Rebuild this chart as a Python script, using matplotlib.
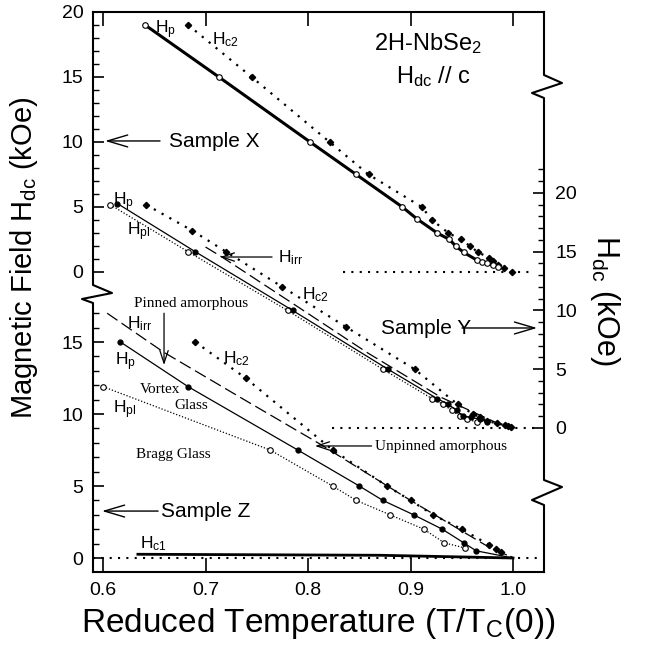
import matplotlib
matplotlib.use('Agg')
import matplotlib.pyplot as plt
from matplotlib.lines import Line2D
from matplotlib.ticker import FixedLocator

plt.rcParams['font.family'] = ['Liberation Sans', 'DejaVu Sans']
plt.rcParams['mathtext.default'] = 'regular'

# ---------------- data (reduced temperature T/Tc(0), field in kOe) ----------------
# Sample X (left axis, upper part)
X_hp_T = [0.641, 0.713, 0.802, 0.847, 0.892, 0.906, 0.926, 0.938, 0.944, 0.952, 0.965, 0.970, 0.975, 0.980, 0.985]
X_hp_H = [19.0, 15.0, 10.0, 7.5, 5.0, 4.1, 3.0, 2.5, 2.0, 1.5, 0.9, 0.8, 0.7, 0.5, 0.4]
X_hc2_T = [0.683, 0.745, 0.821, 0.859, 0.911, 0.921, 0.937, 0.949, 0.958, 0.966, 0.977, 0.980, 0.985, 0.991, 0.999]
X_hc2_H = [19.0, 15.0, 10.0, 7.5, 5.0, 4.0, 3.0, 2.5, 2.0, 1.5, 1.1, 0.85, 0.5, 0.3, 0.0]
X_zero_T = [0.834, 1.016]

# Sample Y (right axis)
Y_hp_T = [0.614, 0.690, 0.785, 0.878, 0.926, 0.937, 0.945, 0.951, 0.959, 0.968, 0.975]
Y_hp_H = [19.1, 15.0, 10.0, 5.0, 2.5, 2.0, 1.5, 1.0, 0.9, 0.75, 0.5]
Y_hpl_T = [0.607, 0.683, 0.780, 0.873, 0.921, 0.932, 0.940, 0.948, 0.955, 0.965]
Y_hpl_H = [19.0, 15.0, 10.0, 5.0, 2.5, 2.0, 1.5, 1.0, 0.75, 0.5]
Y_hc2_T = [0.642, 0.687, 0.720, 0.775, 0.837, 0.904, 0.946, 0.961, 0.968, 0.975, 0.984, 0.992, 0.995, 0.998]
Y_hc2_H = [19.0, 16.8, 15.0, 12.0, 8.6, 5.0, 2.0, 1.2, 0.9, 0.6, 0.4, 0.25, 0.2, 0.1]
Y_hirr_T = [0.700, 0.716, 0.792, 0.858, 0.930, 0.990]
Y_hirr_H = [15.4, 14.55, 10.2, 6.4, 2.6, 0.2]
Y_zero_T = [0.823, 1.026]

# Sample Z (left axis, lower part)
Z_hp_T = [0.617, 0.683, 0.790, 0.850, 0.873, 0.903, 0.931, 0.952, 0.964, 1.000]
Z_hp_H = [15.0, 11.9, 7.5, 5.0, 4.0, 3.0, 2.0, 1.05, 0.5, 0.0]
Z_hpl_T = [0.600, 0.763, 0.824, 0.847, 0.880, 0.913, 0.933, 0.953]
Z_hpl_H = [11.9, 7.5, 5.0, 4.0, 3.0, 2.0, 1.05, 0.7]
Z_hc2_T = [0.690, 0.739, 0.824, 0.877, 0.900, 0.922, 0.950, 0.977, 0.983, 0.988, 1.000]
Z_hc2_H = [15.0, 12.5, 7.5, 5.0, 4.0, 3.0, 2.0, 0.9, 0.6, 0.4, 0.0]
Z_hirr_T = [0.604, 0.659, 0.740, 0.812, 0.900, 0.973, 1.000]
Z_hirr_H = [17.0, 14.3, 10.9, 7.9, 4.0, 0.9, 0.0]
Z_hc1_T = [0.634, 0.870, 1.000]
Z_hc1_H = [0.26, 0.19, 0.0]
Z_zero_T = [0.5902, 1.0302]

x_ticks = [0.6, 0.7, 0.8, 0.9, 1.0]
X_major = [0, 5, 10, 15, 20]
Z_major = [0, 5, 10, 15]
Y_major = [0, 5, 10, 15, 20]

# ---------------- figure / axes geometry ----------------
W, Hh = 645, 654
fig = plt.figure(figsize=(W / 100, Hh / 100), dpi=100)
L, R, B, T = 93, 544, 572, 12
rect = [L / W, 1 - B / Hh, (R - L) / W, (B - T) / Hh]
xlim = (0.5902, 1.0302)

axZ = fig.add_axes(rect)
axZ.set_xlim(*xlim)
axZ.set_ylim(-0.972, 37.92)
axX = fig.add_axes(rect, sharex=axZ)
axX.set_ylim(-23.077, 20.0)
axY = fig.add_axes(rect, sharex=axZ)
axY.set_ylim(-12.255, 35.40)

for a in (axX, axY):
    a.patch.set_visible(False)
    for s in a.spines.values():
        s.set_visible(False)
    a.tick_params(axis='x', which='both', bottom=False, top=False,
                  labelbottom=False, labeltop=False)

axZ.spines['left'].set_visible(False)
axZ.spines['right'].set_visible(False)
axZ.spines['top'].set_linewidth(1.5)
axZ.spines['bottom'].set_linewidth(1.5)

axZ.xaxis.set_major_locator(FixedLocator(x_ticks))
axZ.tick_params(axis='x', which='major', direction='in', length=10, width=1.2,
                top=True, bottom=True, labelsize=14, pad=7)
axZ.tick_params(axis='x', which='minor', bottom=False, top=False)

axZ.yaxis.set_major_locator(FixedLocator(Z_major))
axZ.yaxis.set_minor_locator(FixedLocator(list(range(0, 18))))
axZ.tick_params(axis='y', which='major', direction='in', length=8, width=1.2,
                left=True, right=False, labelsize=14, pad=7)
axZ.tick_params(axis='y', which='minor', direction='in', length=4, width=1.0,
                left=True, right=False)

axX.yaxis.set_major_locator(FixedLocator(X_major))
axX.yaxis.set_minor_locator(FixedLocator(list(range(0, 21))))
axX.tick_params(axis='y', which='major', direction='in', length=8, width=1.2,
                left=True, right=False, labelsize=14, pad=7)
axX.tick_params(axis='y', which='minor', direction='in', length=4, width=1.0,
                left=True, right=False)

axY.yaxis.tick_right()
axY.yaxis.set_major_locator(FixedLocator(Y_major))
axY.yaxis.set_minor_locator(FixedLocator(list(range(0, 23))))
axY.tick_params(axis='y', which='major', direction='in', length=8, width=1.2,
                left=False, right=True, labelright=True, labelleft=False,
                labelsize=14, pad=8)
axY.tick_params(axis='y', which='minor', direction='in', length=4, width=1.0,
                left=False, right=True)

# broken frame (left and right spines with zigzags)
def fx(px):
    return px / W

def fy(py):
    return 1 - py / Hh

left_px = [(93, 12), (93, 285), (112, 293), (82, 299), (93, 303), (93, 572)]
right_px = [(544, 12), (544, 75), (562, 83), (532, 93), (544, 98), (544, 480),
            (562, 487), (532, 500), (544, 505), (544, 572)]
for pts in (left_px, right_px):
    fig.add_artist(Line2D([fx(p[0]) for p in pts], [fy(p[1]) for p in pts],
                          transform=fig.transFigure, color='k', lw=1.5))

# ---------------- styles ----------------
dot_big = (0, (1, 3))
dot_fine = (0, (1, 1.5))
dash = (0, (10, 4))
open_c = dict(marker='o', ms=4, mfc='white', mec='k', mew=0.8)
fill_c = dict(marker='o', ms=3.5, mfc='k', mec='k')
fill_d = dict(marker='D', ms=3.2, mfc='k', mec='k')

# Sample X
axX.plot(X_zero_T, [0, 0], color='k', lw=1.5, ls=dot_big)
axX.plot(X_hc2_T, X_hc2_H, color='k', lw=1.6, ls=dot_big, **fill_d)
axX.plot(X_hp_T, X_hp_H, color='k', lw=2.2, ls='-', **open_c)

# Sample Y
axY.plot(Y_zero_T, [0, 0], color='k', lw=1.5, ls=dot_big)
axY.plot(Y_hc2_T, Y_hc2_H, color='k', lw=1.6, ls=dot_big, **fill_d)
axY.plot(Y_hirr_T, Y_hirr_H, color='k', lw=0.9, ls=dash)
axY.plot(Y_hpl_T, Y_hpl_H, color='k', lw=0.9, ls=dot_fine, **open_c)
axY.plot(Y_hp_T, Y_hp_H, color='k', lw=0.9, ls='-', **fill_c)

# Sample Z
axZ.plot(Z_zero_T, [0, 0], color='k', lw=1.5, ls=dot_big, clip_on=False)
axZ.plot(Z_hc1_T, Z_hc1_H, color='k', lw=2.0, ls='-')
axZ.plot(Z_hc2_T, Z_hc2_H, color='k', lw=1.6, ls=dot_big, markevery=slice(0, -1), **fill_d)
axZ.plot(Z_hirr_T, Z_hirr_H, color='k', lw=0.9, ls=dash)
axZ.plot(Z_hpl_T, Z_hpl_H, color='k', lw=0.9, ls=dot_fine, **open_c)
axZ.plot(Z_hp_T, Z_hp_H, color='k', lw=0.9, ls='-', markevery=slice(0, -1), **fill_c)

# ---------------- labels ----------------
lab = dict(fontsize=12.5, ha='left', va='baseline')
axX.text(0.6507, 18.38, r'H$_{p}$', **lab)
axX.text(0.7063, 17.54, r'H$_{c2}$', **lab)
axX.text(0.917, 17.6, r'2H-NbSe$_{2}$', fontsize=17, ha='center', va='center')
axX.text(0.922, 15.0, r'H$_{dc}$ // c', fontsize=17, ha='center', va='center')

axY.text(0.6098, 18.98, r'H$_{p}$', **lab)
axY.text(0.6234, 16.43, r'H$_{pl}$', **lab)
axY.text(0.7707, 14.13, r'H$_{irr}$', **lab)
axY.text(0.7941, 10.98, r'H$_{c2}$', **lab)

axZ.text(0.6234, 15.97, r'H$_{irr}$', **lab)
axZ.text(0.6117, 13.40, r'H$_{p}$', **lab)
axZ.text(0.7171, 13.54, r'H$_{c2}$', **lab)
axZ.text(0.6098, 10.07, r'H$_{pl}$', **lab)
axZ.text(0.6361, 0.69, r'H$_{c1}$', **lab)

serif = dict(family=['Liberation Serif', 'DejaVu Serif'], fontsize=11, ha='center', va='center')
axZ.text(0.6556, 11.67, 'Vortex', **serif)
axZ.text(0.6859, 10.56, 'Glass', **serif)
axZ.text(0.6683, 7.22, 'Bragg Glass', **serif)
axZ.text(0.6859, 17.71, 'Pinned amorphous', **serif)
axZ.text(0.8654, 7.71, 'Unpinned amorphous', **dict(serif, ha='left'))

arr_big = dict(arrowstyle='->,head_length=1.45,head_width=0.43', lw=1.0, color='k',
               shrinkA=0, shrinkB=0)
arr_small = dict(arrowstyle='->,head_length=0.9,head_width=0.3', lw=0.9, color='k',
                 shrinkA=0, shrinkB=0)

axX.text(0.7083, 10.0, 'Sample X', fontsize=15, ha='center', va='center')
axX.annotate('', xy=(0.6020, 10.08), xytext=(0.6556, 10.08), arrowprops=arr_big)
axY.text(0.9151, 8.43, 'Sample Y', fontsize=15, ha='center', va='center')
axY.annotate('', xy=(1.0234, 8.51), xytext=(0.9502, 8.51), arrowprops=arr_big,
             annotation_clip=False)
axZ.text(0.7005, 3.26, 'Sample Z', fontsize=15, ha='center', va='center')
axZ.annotate('', xy=(0.5990, 3.26), xytext=(0.6537, 3.26), arrowprops=arr_big)

axY.annotate('', xy=(0.7141, 14.55), xytext=(0.7649, 14.55), arrowprops=arr_small)
axZ.annotate('', xy=(0.6595, 13.4), xytext=(0.6595, 17.0), arrowprops=arr_small)
axZ.annotate('', xy=(0.8068, 7.78), xytext=(0.8620, 7.78), arrowprops=arr_small)

# axis titles
axZ.set_xlabel('Reduced Temperature (T/T$_{C}$(0))', fontsize=24, labelpad=5)
fig.text(24 / W, fy(258), 'Magnetic Field H$_{dc}$ (kOe)', fontsize=21,
         rotation=90, ha='center', va='center')
fig.text(605 / W, fy(300), 'H$_{dc}$ (kOe)', fontsize=22,
         rotation=-90, ha='center', va='center')

fig.savefig('out.png', dpi=100)
